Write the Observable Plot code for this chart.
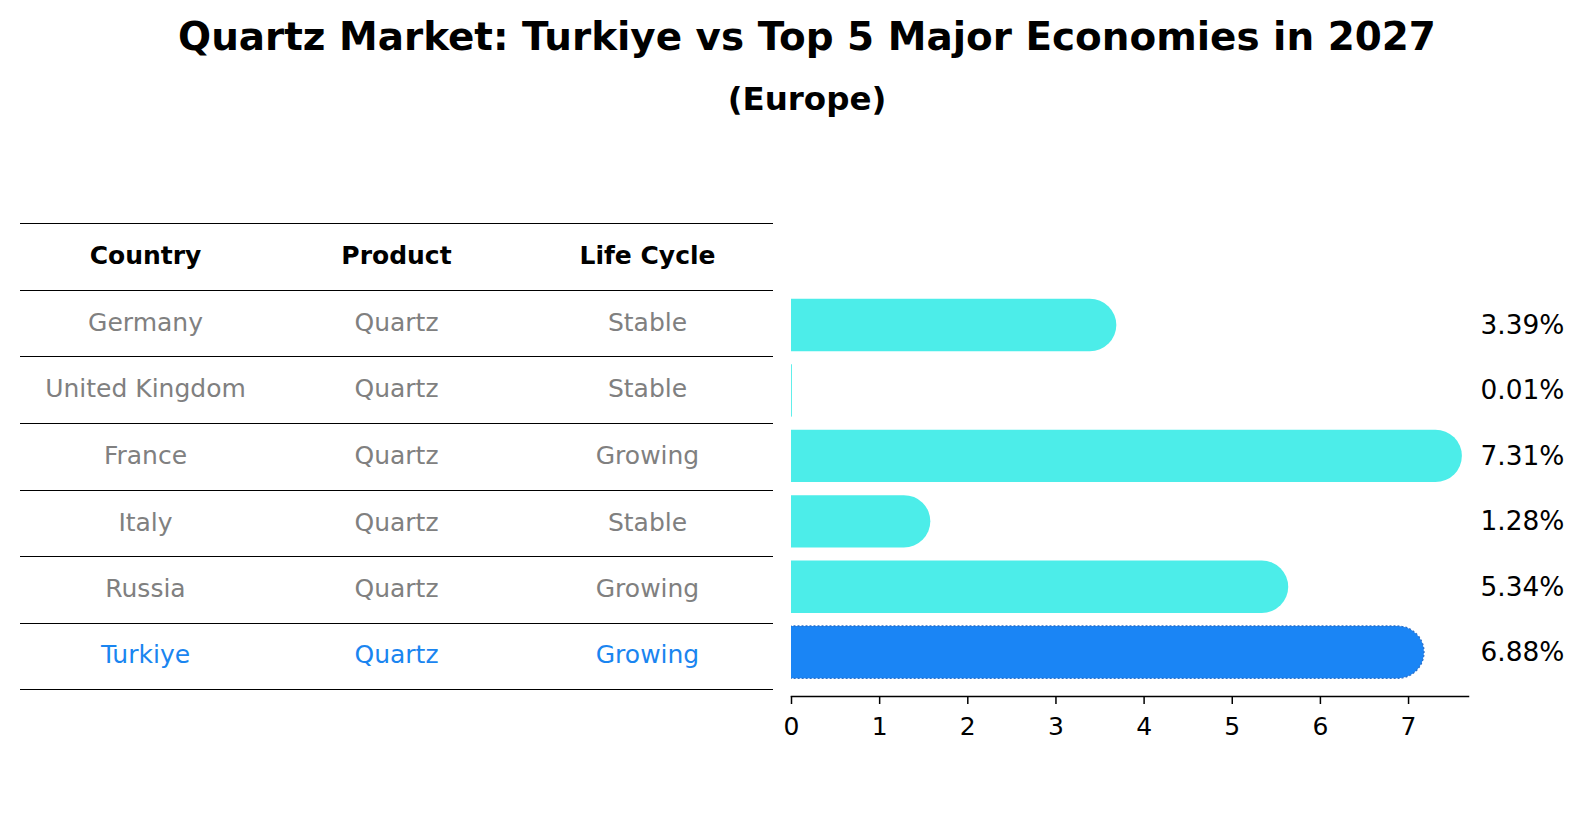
<!DOCTYPE html>
<html>
<head>
<meta charset="utf-8">
<script src="https://cdn.jsdelivr.net/npm/d3@7"></script>
<script src="https://cdn.jsdelivr.net/npm/@observablehq/plot@0.6"></script>
<style>
  html, body { margin: 0; padding: 0; background: #ffffff; }
  body { width: 1586px; height: 823px; position: relative; overflow: hidden; font-family: "DejaVu Sans", sans-serif; }
  .title { position: absolute; left: 0; width: 1614px; text-align: center; font-weight: bold; line-height: 1; white-space: nowrap; color: #000; }
  #chart { position: absolute; left: 0; top: 0; }
  #table { position: absolute; left: 20px; top: 223px; width: 753px; }
  .row { display: flex; height: 66.7px; border-top: 1.2px solid #000; box-sizing: border-box; align-items: center; padding-bottom: 3px; }
  .row.last { border-bottom: 1.2px solid #000; }
  .cell { flex: 1; text-align: center; font-size: 25px; color: #808080; }
  .head .cell { font-weight: bold; color: #000; }
  .hl .cell { color: #1a85f0; }
</style>
</head>
<body>
<div class="title" style="top:17.5px;font-size:38.9px;">Quartz Market: Turkiye vs Top 5 Major Economies in 2027</div>
<div class="title" style="top:83px;font-size:32.5px;">(Europe)</div>
<div id="table"></div>
<div id="chart"></div>
<script>
// ---- data ----
const headers = ["Country", "Product", "Life Cycle"];
const countries = ["Germany", "United Kingdom", "France", "Italy", "Russia", "Turkiye"];
const products = ["Quartz", "Quartz", "Quartz", "Quartz", "Quartz", "Quartz"];
const lifeCycles = ["Stable", "Stable", "Growing", "Stable", "Growing", "Growing"];
const values = [3.39, 0.01, 7.31, 1.28, 5.34, 6.88];
const xTicks = [0, 1, 2, 3, 4, 5, 6, 7];
const highlight = "Turkiye";

const cyan = "#4cede9";
const blue = "#1a85f5";

const data = countries.map((c, i) => ({
  i, country: c, product: products[i], life: lifeCycles[i], value: values[i],
  hl: c === highlight
}));

// ---- table ----
const table = document.getElementById("table");
function addRow(cells, cls) {
  const r = document.createElement("div");
  r.className = "row " + cls;
  cells.forEach(t => {
    const c = document.createElement("div");
    c.className = "cell";
    c.textContent = t;
    r.appendChild(c);
  });
  table.appendChild(r);
}
addRow(headers, "head");
data.forEach((d, k) => addRow([d.country, d.product, d.life], (d.hl ? "hl " : "") + (k === data.length - 1 ? "last" : "")));

// ---- chart ----
const half = 0.4;
const capped = data.filter(d => d.value >= 0.1);
const thin = data.filter(d => d.value < 0.1);

const chart = Plot.plot({
  width: 1586,
  height: 823,
  marginLeft: 791,
  marginRight: 118,
  marginTop: 292.3,
  marginBottom: 127,
  x: {domain: [0, 7.68]},
  y: {domain: [-0.5, 5.67], reverse: true, axis: null},
  style: {fontFamily: "DejaVu Sans", fontSize: "24px", color: "#000", background: "transparent"},
  marks: [
    Plot.rect(capped, {
      x1: 0, x2: "value",
      y1: d => d.i - half, y2: d => d.i + half,
      fill: d => d.hl ? blue : cyan,
      stroke: d => d.hl ? "#2a6fc9" : "none",
      strokeDasharray: "2,2",
      strokeWidth: 1.3,
      rx: 26.5,
      insetLeft: -40,
      insetRight: -26.5,
      clip: true
    }),
    Plot.rect(thin, {
      x1: 0, x2: "value",
      y1: d => d.i - half, y2: d => d.i + half,
      fill: cyan
    }),
    Plot.text(data, {
      y: "i",
      text: d => d.value.toFixed(2) + "%",
      frameAnchor: "right",
      textAnchor: "start",
      dx: 12,
      fontSize: 26.4,
      fill: "#000"
    }),
    Plot.frame({anchor: "bottom", stroke: "#000", strokeWidth: 1.5}),
    Plot.axisX({ticks: xTicks, tickSize: 8, tickPadding: 13, fontSize: 25, strokeWidth: 1.5, label: null, anchor: "bottom"})
  ]
});
document.getElementById("chart").appendChild(chart);
</script>
</body>
</html>
